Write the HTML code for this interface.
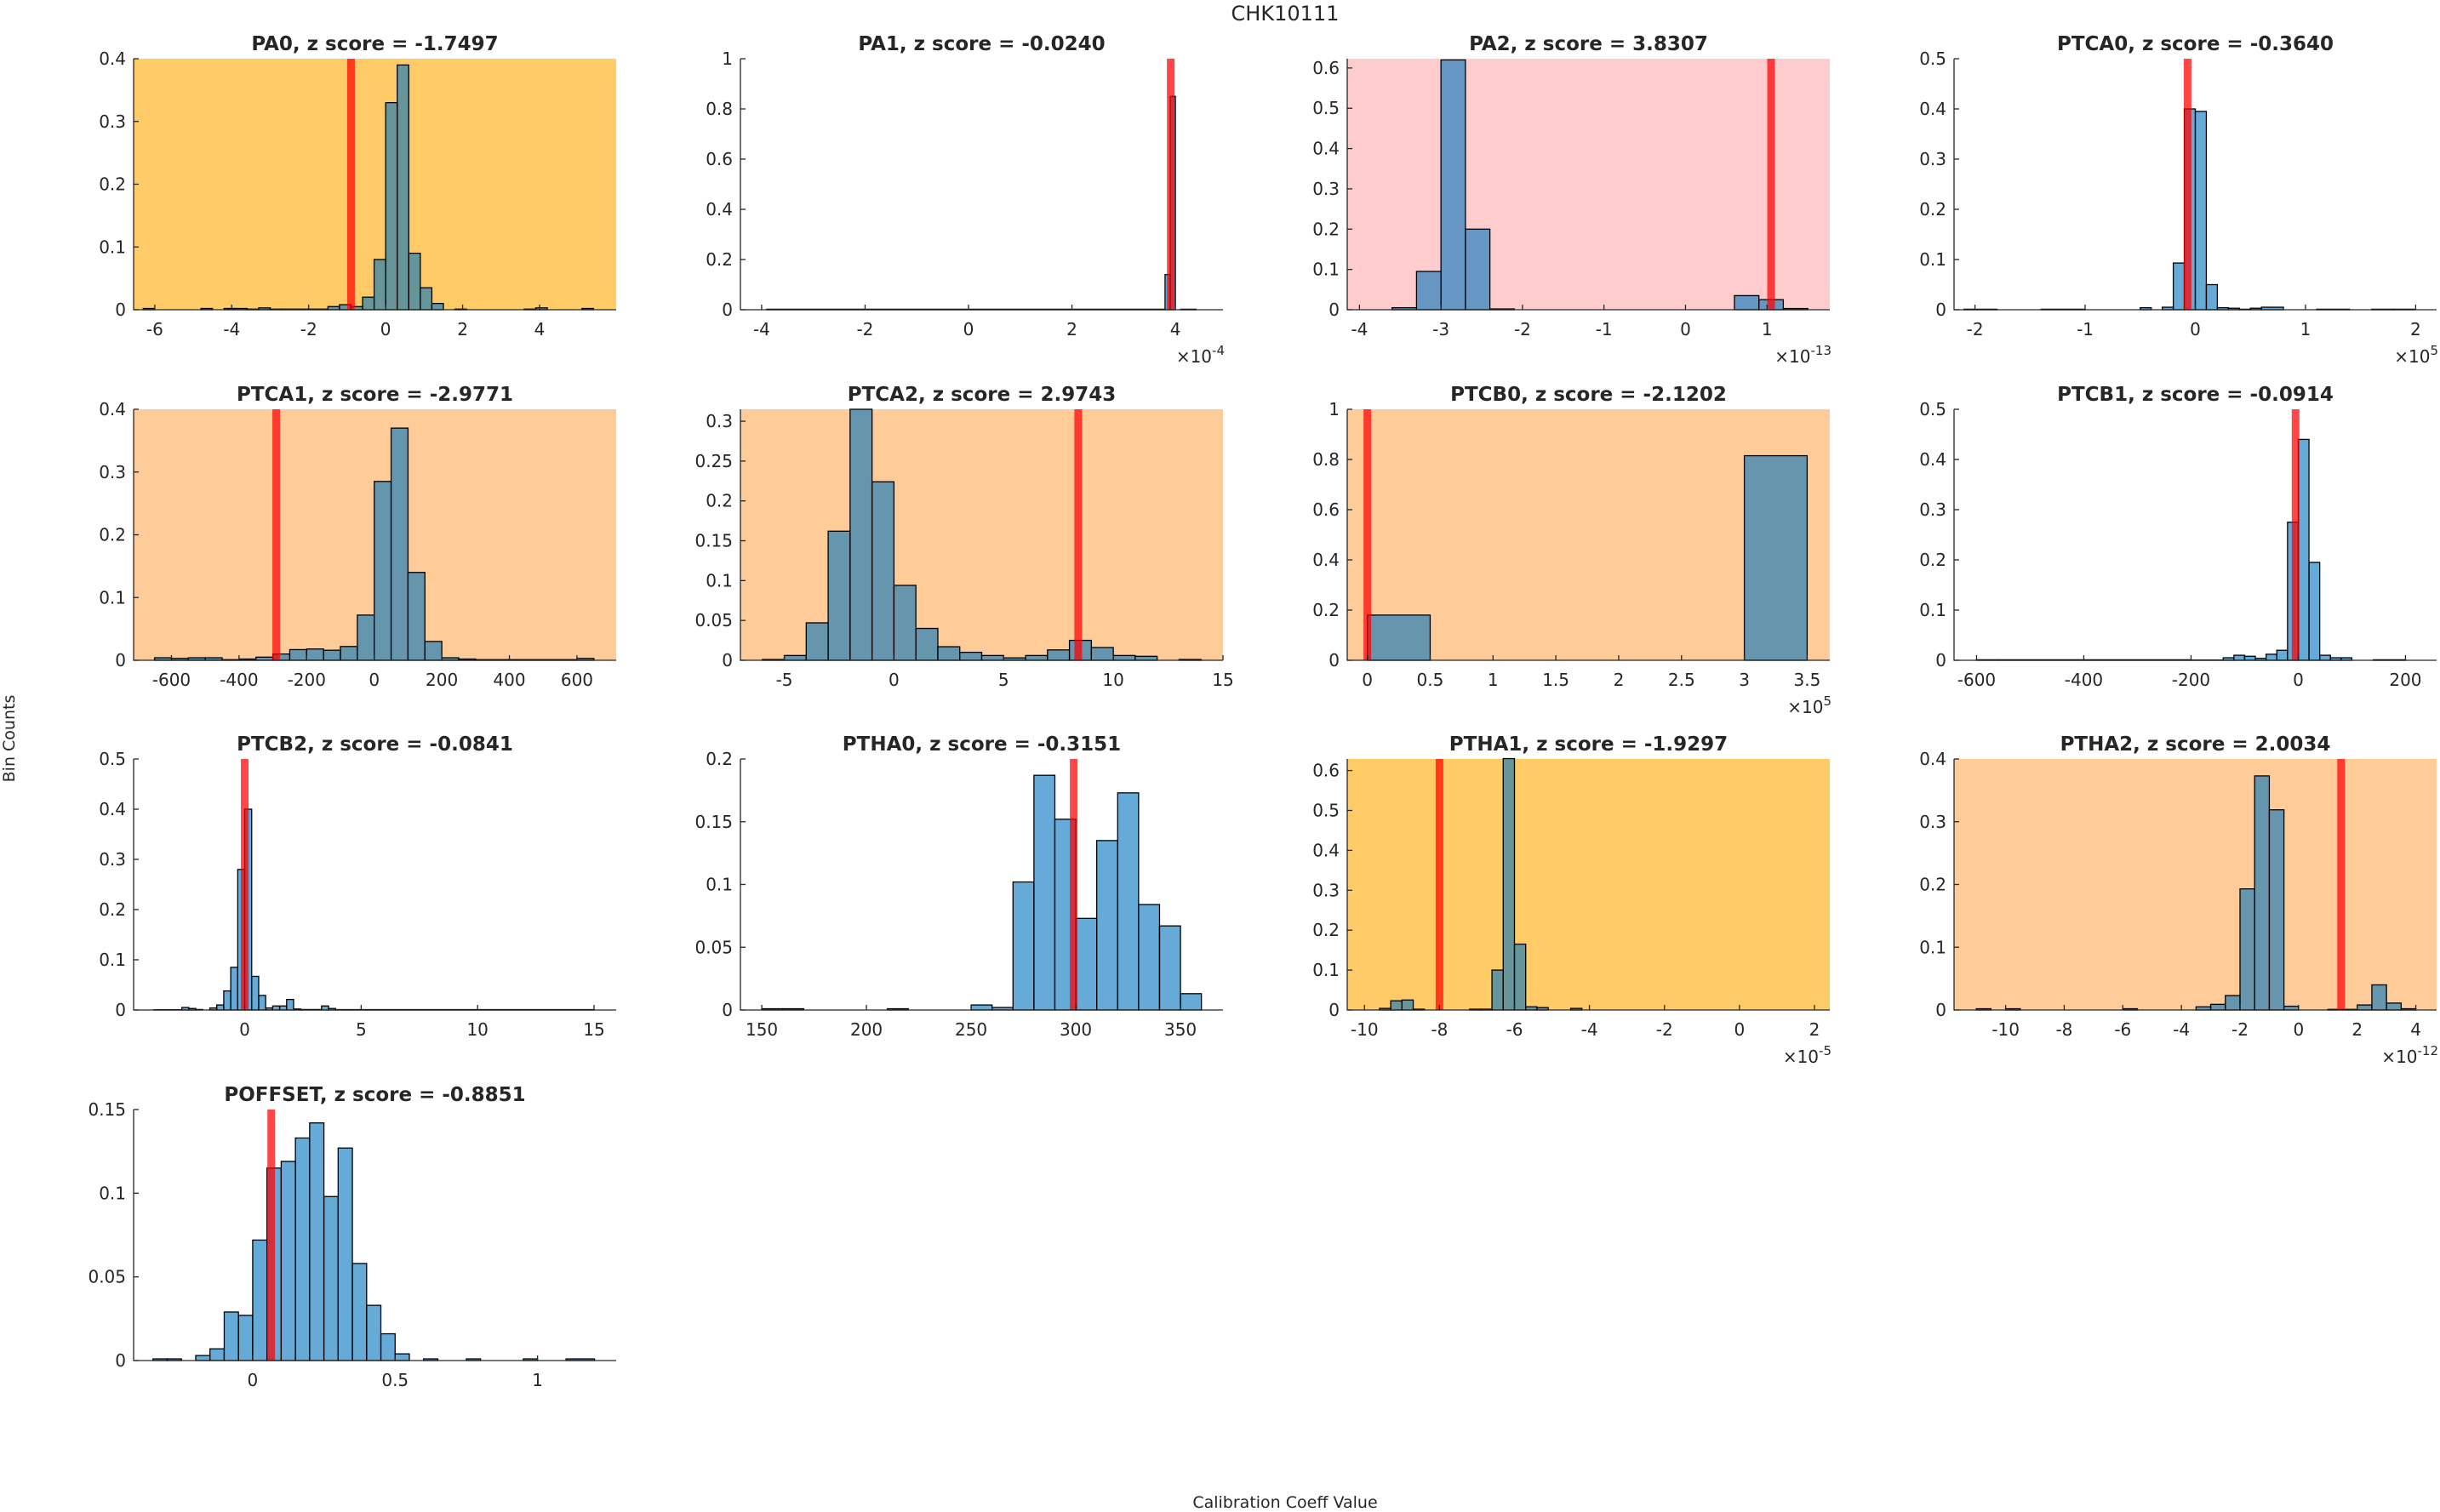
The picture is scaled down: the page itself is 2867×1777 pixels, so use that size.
<!DOCTYPE html>
<html><head><meta charset="utf-8">
<style>
html,body{margin:0;padding:0;background:#fff;}
svg{display:block;}
text{font-family:"DejaVu Sans","Liberation Sans",sans-serif;fill:#262626;}
</style></head>
<body>
<svg id="fig" width="2867" height="1777" viewBox="0 0 2867 1777" xmlns="http://www.w3.org/2000/svg">
<text x="1510" y="24" font-size="24" text-anchor="middle">CHK10111</text>
<text x="0" y="0" font-size="19" text-anchor="middle" transform="translate(17,868) rotate(-90)">Bin Counts</text>
<text x="1510" y="1772" font-size="19" text-anchor="middle">Calibration Coeff Value</text>
</svg>
<script>
// ---- data arrays ----
const pa0Edges=[-6.3,-6.0,-5.7,-4.8,-4.5,-4.2,-3.6,-3.3,-3.0,-2.7,-1.5,-1.2,-0.9,-0.6,-0.3,0,0.3,0.6,0.9,1.2,1.5,1.8,2.1,3.6,3.9,4.2,5.1,5.4];
const pa0Counts=[0.002,0,0,0.002,0,0.002,0.001,0.003,0.001,0.001,0.005,0.008,0.005,0.02,0.08,0.33,0.39,0.09,0.035,0.01,0,0.001,0,0.001,0.003,0,0.002];
const pa1Edges=[-3.9,3.8,3.9,4.0,4.1,4.4];
const pa1Counts=[0.002,0.14,0.85,0,0.002];
const pa2Edges=[-3.6,-3.3,-3.0,-2.7,-2.4,-2.1,0.6,0.9,1.2,1.5];
const pa2Counts=[0.005,0.095,0.62,0.2,0.002,0,0.035,0.025,0.003];
const ptca0Edges=[-2.1,-1.8,-1.4,-1.0,-0.5,-0.4,-0.3,-0.2,-0.1,0,0.1,0.2,0.3,0.4,0.5,0.6,0.8,1.1,1.4,1.6,1.8,2.0];
const ptca0Counts=[0.001,0,0.001,0,0.004,0,0.005,0.093,0.4,0.395,0.05,0.004,0.003,0.001,0.003,0.005,0,0.001,0,0.001,0.001];
const ptca1Edges=[-650,-600,-550,-500,-450,-400,-350,-300,-250,-200,-150,-100,-50,0,50,100,150,200,250,300,600,650];
const ptca1Counts=[0.004,0.003,0.004,0.004,0.001,0.002,0.005,0.01,0.017,0.018,0.016,0.022,0.072,0.285,0.37,0.14,0.03,0.004,0.002,0.001,0.003];
const ptca2Edges=[-6,-5,-4,-3,-2,-1,0,1,2,3,4,5,6,7,8,9,10,11,12,13,14];
const ptca2Counts=[0.001,0.006,0.047,0.162,0.315,0.224,0.094,0.04,0.017,0.01,0.006,0.003,0.006,0.013,0.025,0.016,0.006,0.005,0,0.001];
const ptcb0Edges=[0,0.5,3.0,3.5];
const ptcb0Counts=[0.18,0,0.815];
const ptcb1Edges=[-600,-560,-400,-200,-140,-120,-100,-80,-60,-40,-20,0,20,40,60,80,100,140,200];
const ptcb1Counts=[0.001,0.001,0.001,0.0005,0.005,0.01,0.008,0.004,0.012,0.02,0.275,0.44,0.195,0.01,0.005,0.005,0,0.001];
const ptcb2Edges=[-3.9,-2.7,-2.4,-2.1,-1.8,-1.5,-1.2,-0.9,-0.6,-0.3,0,0.3,0.6,0.9,1.2,1.5,1.8,2.1,2.4,3.3,3.6,3.9,15];
const ptcb2Counts=[0.0005,0.005,0.003,0.001,0,0.004,0.01,0.038,0.085,0.28,0.40,0.067,0.029,0.004,0.008,0.008,0.021,0.002,0.001,0.008,0.003,0.0008];
const ptha0Edges=[150,160,170,210,220,250,260,270,280,290,300,310,320,330,340,350,360];
const ptha0Counts=[0.001,0.001,0,0.001,0,0.004,0.002,0.102,0.187,0.152,0.073,0.135,0.173,0.084,0.067,0.013];
const ptha1Edges=[-9.9,-9.6,-9.3,-9.0,-8.7,-8.4,-7.2,-6.9,-6.6,-6.3,-6.0,-5.7,-5.4,-5.1,-4.5,-4.2,1.8];
const ptha1Counts=[0,0.004,0.023,0.025,0.002,0,0.002,0.002,0.1,0.63,0.165,0.008,0.006,0,0.004,0];
const ptha2Edges=[-11,-10.5,-10,-9.5,-6,-5.5,-3.5,-3,-2.5,-2,-1.5,-1,-0.5,0,1,1.5,2,2.5,3,3.5,4];
const ptha2Counts=[0.002,0,0.002,0,0.002,0,0.005,0.009,0.023,0.193,0.373,0.319,0.006,0,0.001,0.001,0.008,0.04,0.011,0.002];
const poffEdges=[-0.35,-0.3,-0.25,-0.2,-0.15,-0.1,-0.05,0,0.05,0.1,0.15,0.2,0.25,0.3,0.35,0.4,0.45,0.5,0.55,0.6,0.65,0.75,0.8,0.95,1.0,1.1,1.2];
const poffCounts=[0.001,0.001,0,0.003,0.007,0.029,0.027,0.072,0.115,0.119,0.133,0.142,0.098,0.127,0.058,0.033,0.016,0.004,0,0.001,0,0.001,0,0.001,0,0.001];

const panelTitles=["PA0, z score = -1.7497","PA1, z score = -0.0240","PA2, z score = 3.8307","PTCA0, z score = -0.3640","PTCA1, z score = -2.9771","PTCA2, z score = 2.9743","PTCB0, z score = -2.1202","PTCB1, z score = -0.0914","PTCB2, z score = -0.0841","PTHA0, z score = -0.3151","PTHA1, z score = -1.9297","PTHA2, z score = 2.0034","POFFSET, z score = -0.8851"];
const zLineValues=[-0.9,3.91,1.05,-0.07,-290,8.4,0.0,-5,0.0,299,-8.0,1.45,0.065];
const xLimits=[[-6.55,5.99],[-4.41,4.92],[-4.15,1.77],[-2.19,2.19],[-712,716],[-7,15],[-0.16,3.68],[-642,258],[-4.77,15.95],[139.8,370.3],[-10.46,2.41],[-11.76,4.71],[-0.418,1.276]];
const yLimits=[0.4,1,0.623,0.5,0.4,0.315,1,0.5,0.5,0.2,0.629,0.4,0.15];
const xTickSets=[[-6,-4,-2,0,2,4],[-4,-2,0,2,4],[-4,-3,-2,-1,0,1],[-2,-1,0,1,2],[-600,-400,-200,0,200,400,600],[-5,0,5,10,15],[0,0.5,1,1.5,2,2.5,3,3.5],[-600,-400,-200,0,200],[0,5,10,15],[150,200,250,300,350],[-10,-8,-6,-4,-2,0,2],[-10,-8,-6,-4,-2,0,2,4],[0,0.5,1]];
const yTickSets=[[0,0.1,0.2,0.3,0.4],[0,0.2,0.4,0.6,0.8,1],[0,0.1,0.2,0.3,0.4,0.5,0.6],[0,0.1,0.2,0.3,0.4,0.5],[0,0.1,0.2,0.3,0.4],[0,0.05,0.1,0.15,0.2,0.25,0.3],[0,0.2,0.4,0.6,0.8,1],[0,0.1,0.2,0.3,0.4,0.5],[0,0.1,0.2,0.3,0.4,0.5],[0,0.05,0.1,0.15,0.2],[0,0.1,0.2,0.3,0.4,0.5,0.6],[0,0.1,0.2,0.3,0.4],[0,0.05,0.1,0.15]];
const exponents=["","-4","-13","5","","","5","","","","-5","-12",""];
const backgrounds=["#fecb66","#ffffff","#fecccc","#ffffff","#fecb99","#fecb99","#fecb99","#ffffff","#ffffff","#ffffff","#fecb66","#fecb99","#ffffff"];
const allEdges=[pa0Edges,pa1Edges,pa2Edges,ptca0Edges,ptca1Edges,ptca2Edges,ptcb0Edges,ptcb1Edges,ptcb2Edges,ptha0Edges,ptha1Edges,ptha2Edges,poffEdges];
const allCounts=[pa0Counts,pa1Counts,pa2Counts,ptca0Counts,ptca1Counts,ptca2Counts,ptcb0Counts,ptcb1Counts,ptcb2Counts,ptha0Counts,ptha1Counts,ptha2Counts,poffCounts];

// ---- layout ----
const colX=[157,870,1583,2296], rowY=[69,481,892,1304], AW=567, AH=295;
const NS="http://www.w3.org/2000/svg";
const fig=document.getElementById('fig');
function mk(tag,attrs,parent){const e=document.createElementNS(NS,tag);for(const k in attrs)e.setAttribute(k,attrs[k]);(parent||fig).appendChild(e);return e;}

panelTitles.forEach((title,i)=>{
  const x0=colX[i%4], y0=rowY[Math.floor(i/4)];
  const [xa,xb]=xLimits[i], ym=yLimits[i];
  const sx=v=>x0+(v-xa)/(xb-xa)*AW;
  const sy=v=>y0+AH-(v/ym)*AH;
  const key=title.split(',')[0].toLowerCase();
  const g=mk('g',{});
  
  
  const bg=mk('rect',{x:x0,y:y0,width:AW,height:AH,fill:backgrounds[i]},g);
  
  
  const edges=allEdges[i], counts=allCounts[i];
  counts.forEach((c,j)=>{
    const xl=sx(edges[j]), xr=sx(edges[j+1]);
    const r=mk('rect',{x:xl,y:sy(c),width:xr-xl,height:Math.max(0,sy(0)-sy(c)),fill:'rgba(0,114,189,0.6)',stroke:'#000','stroke-width':1.3},g);
    
    
  });
  const zl=mk('line',{x1:sx(zLineValues[i]),x2:sx(zLineValues[i]),y1:y0,y2:y0+AH,stroke:'rgba(255,0,0,0.72)','stroke-width':9},g);
  
  
  const ax=mk('path',{d:`M${x0},${y0}V${y0+AH}H${x0+AW}`,stroke:'#262626','stroke-width':1.3,fill:'none'},g);
  
  
  xTickSets[i].forEach(t=>{
    const X=sx(t);
    mk('line',{x1:X,x2:X,y1:y0+AH,y2:y0+AH-6,stroke:'#262626','stroke-width':1.3},g);
    const tl=mk('text',{x:X,y:y0+AH+30,'font-size':20,'text-anchor':'middle'},g);
    tl.textContent=String(t);
    
    
  });
  yTickSets[i].forEach(t=>{
    const Y=sy(t);
    mk('line',{x1:x0,x2:x0+6,y1:Y,y2:Y,stroke:'#262626','stroke-width':1.3},g);
    const tl=mk('text',{x:x0-9,y:Y+7,'font-size':20,'text-anchor':'end'},g);
    tl.textContent=String(t);
    
    
  });
  const tt=mk('text',{x:x0+AW/2,y:y0-10,'font-size':23,'font-weight':'bold','text-anchor':'middle',fill:'#000'},g);
  tt.textContent=title;
  
  
  if(exponents[i]){
    const ex=mk('text',{x:x0+AW+2,y:y0+AH+62,'font-size':20,'text-anchor':'end'},g);
    
    
    const t1=mk('tspan',{},ex); t1.textContent='\u00d710';
    const t2=mk('tspan',{dy:-9,'font-size':15},ex); t2.textContent=exponents[i];
  }
});
</script>
</body></html>
